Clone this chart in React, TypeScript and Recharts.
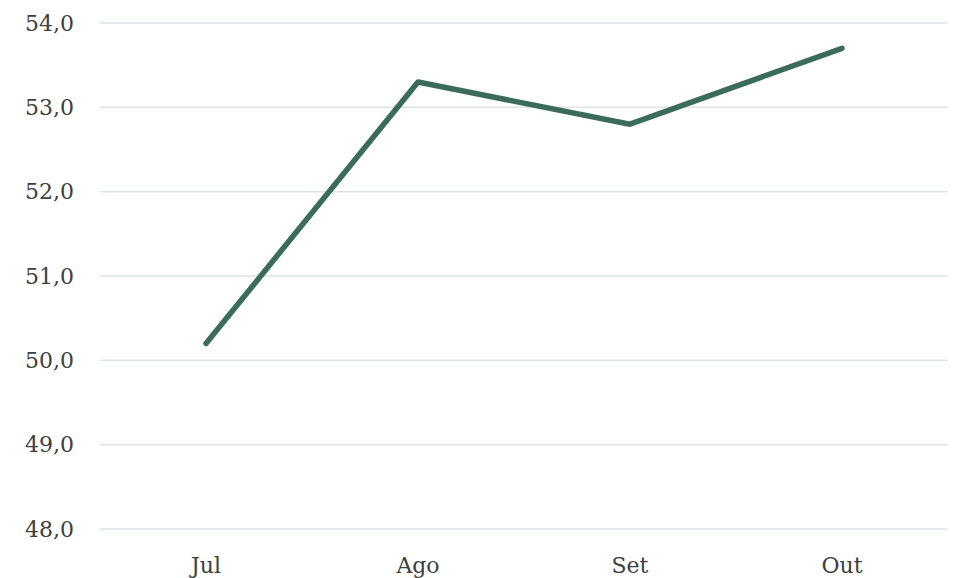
import React from "react";
import { LineChart, Line, XAxis, YAxis, CartesianGrid } from "recharts";

const categories = ["Jul", "Ago", "Set", "Out"];
const values = [50.2, 53.3, 52.8, 53.7];
const yTicks = [48, 49, 50, 51, 52, 53, 54];

const data = categories.map((c, i) => ({ name: c, value: values[i] }));

const fmt = (v: number) => v.toFixed(1).replace(".", ",");

export default function App() {
  return (
    <div style={{ position: "absolute", left: 0, top: 0, background: "#fff" }}>
      <LineChart
        width={955}
        height={578}
        data={data}
        margin={{ top: 23, right: 7, bottom: 0, left: 0 }}
      >
        <CartesianGrid vertical={false} stroke="#dce4e4" strokeWidth={1.5} />
        <XAxis
          dataKey="name"
          axisLine={false}
          tickLine={false}
          tickSize={0}
          tickMargin={28}
          height={49}
          interval={0}
          padding={{ left: 106, right: 106 }}
          tick={{ fontFamily: "DejaVu Serif", fontSize: 22, fill: "#404040" }}
        />
        <YAxis
          domain={[48, 54]}
          ticks={yTicks}
          tickFormatter={fmt}
          axisLine={false}
          tickLine={false}
          tickSize={0}
          tickMargin={26}
          width={100}
          tick={{ fontFamily: "DejaVu Serif", fontSize: 22, fill: "#404040" }}
        />
        <Line
          type="linear"
          dataKey="value"
          stroke="#3b6b5a"
          strokeWidth={5.5}
          dot={false}
          activeDot={false}
          strokeLinecap="round"
          strokeLinejoin="round"
          isAnimationActive={false}
        />
      </LineChart>
    </div>
  );
}
